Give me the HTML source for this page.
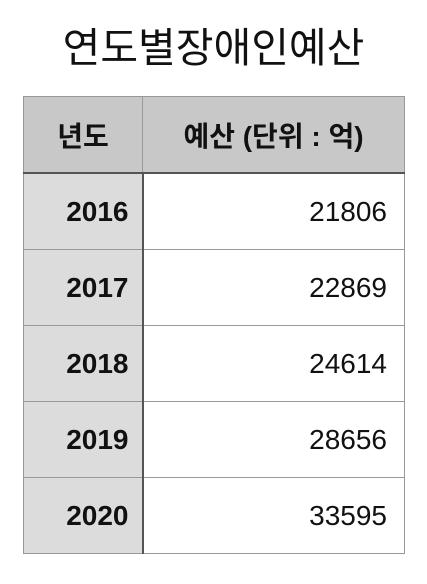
<!DOCTYPE html>
<html><head><meta charset="utf-8"><style>
html,body{margin:0;padding:0;background:#fff;width:427px;height:584px;overflow:hidden;font-family:"Liberation Sans","Noto Sans CJK KR",sans-serif;}
h1{position:absolute;top:21px;left:0;width:427px;text-align:center;margin:0;font-size:41px;font-weight:normal;color:#111;line-height:54px;}
table{position:absolute;left:23px;top:96px;border-collapse:collapse;width:382px;table-layout:fixed;}
td,th{border:1.5px solid #999;height:75px;padding:0 17px;font-size:28px;color:#111;white-space:nowrap;}
th{background:#c8c8c8;font-weight:bold;text-align:center;border-bottom:2px solid #555;padding:0 4px;}
td.y{background:#dcdcdc;font-weight:bold;text-align:right;border-right:2px solid #555;padding-right:13px;padding-left:4px;}
td.v{text-align:right;}
</style></head><body>
<h1>연도별장애인예산</h1>
<table>
<colgroup><col style="width:119px"><col></colgroup>
<thead><tr><th>년도</th><th>예산 (단위 : 억)</th></tr></thead>
<tbody id="tb"></tbody>
</table>
<script>
const years=["2016","2017","2018","2019","2020"];
const budgets=[21806,22869,24614,28656,33595];
const tb=document.getElementById('tb');
years.forEach((y,i)=>{
const tr=document.createElement('tr');


const a=document.createElement('td');a.className='y';a.textContent=y;


const b=document.createElement('td');b.className='v';b.textContent=budgets[i];


tr.appendChild(a);tr.appendChild(b);tb.appendChild(tr);
});
</script>
</body></html>
